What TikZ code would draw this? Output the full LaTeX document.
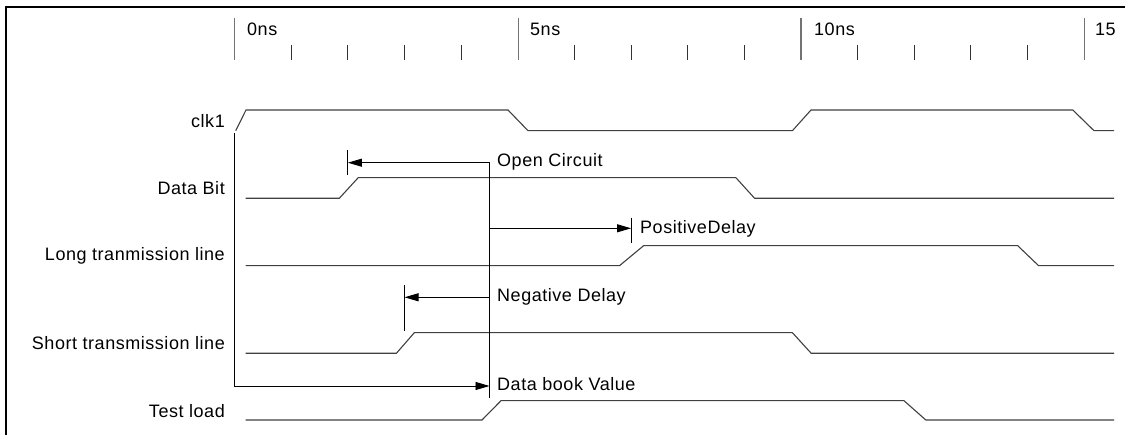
\documentclass[tikz,border=0pt]{standalone}
\usepackage{fontspec}
\setmainfont{Liberation Sans}[LetterSpace=3]
\usetikzlibrary{arrows.meta}

\tikzset{
    wave/.style={line width=1.1pt, black!75},
    majortick/.style={line width=1.1pt, black!55},
    minortick/.style={line width=1pt, black!80},
    sig/.style={anchor=east, inner sep=0pt, font=\fontsize{18}{21}\selectfont},
    note/.style={anchor=west, inner sep=0pt, font=\fontsize{18}{21}\selectfont},
    dimarrow/.style={line width=0.9pt, -{Triangle[length=14pt,width=8pt]}},
    marker/.style={line width=0.9pt}
}

\begin{document}
\begin{tikzpicture}[x=1pt, y=-1pt]
        \useasboundingbox (0, 0) rectangle (1125, 435);
        \clip (0, 0) rectangle (1125, 435);

        % frame
        \draw[line width=2pt] (5.5, 440) -- (5.5, 7) -- (1130, 7);

        % time scale
        \draw[majortick] (234.6, 18) -- (234.6, 60);
        \draw[majortick] (518.2, 18) -- (518.2, 60);
        \draw[majortick] (801.0, 18) -- (801.0, 60);
        \draw[majortick] (1084.2, 18) -- (1084.2, 60);
        \draw[minortick] (291.2, 45) -- (291.2, 60);
        \draw[minortick] (347.9, 45) -- (347.9, 60);
        \draw[minortick] (404.5, 45) -- (404.5, 60);
        \draw[minortick] (461.2, 45) -- (461.2, 60);
        \draw[minortick] (574.4, 45) -- (574.4, 60);
        \draw[minortick] (631.1, 45) -- (631.1, 60);
        \draw[minortick] (687.7, 45) -- (687.7, 60);
        \draw[minortick] (744.4, 45) -- (744.4, 60);
        \draw[minortick] (857.6, 45) -- (857.6, 60);
        \draw[minortick] (914.3, 45) -- (914.3, 60);
        \draw[minortick] (970.9, 45) -- (970.9, 60);
        \draw[minortick] (1027.6, 45) -- (1027.6, 60);

        \node[note] (t0) at (247, 29) {0ns};
        \node[note] (t5) at (530, 29) {5ns};
        \node[note] (t10) at (814, 29) {10ns};
        \node[note] (t15) at (1095, 29) {15};

        % signal names
        \node[sig] (clk) at (225, 121) {clk1};
        \node[sig] (databit) at (225, 188.5) {Data Bit};
        \node[sig] (longline) at (225, 256) {Long tranmission line};
        \node[sig] (shortline) at (225, 343.5) {Short transmission line};
        \node[sig] (testload) at (225, 411) {Test load};

        % waveforms
        \draw[wave] (235.7, 130.7) -- (246, 110) -- (508, 110) -- (528, 130.7)
            -- (792.4, 130.7) -- (811, 110) -- (1072.8, 110) -- (1094, 130.7) -- (1114, 130.7);
        \draw[wave] (245.7, 198.3) -- (339.3, 198.3) -- (358.2, 177.7) -- (735.9, 177.7)
            -- (754.6, 198.3) -- (1114, 198.3);
        \draw[wave] (245.7, 265.7) -- (619.5, 265.7) -- (643.6, 245.7) -- (1017.7, 245.7)
            -- (1038.6, 265.7) -- (1114, 265.7);
        \draw[wave] (245.7, 353.3) -- (396.4, 353.3) -- (414.3, 332.7) -- (792.4, 332.7)
            -- (811.2, 353.3) -- (1114, 353.3);
        \draw[wave] (245.7, 420) -- (482, 420) -- (501, 400.7) -- (904, 400.7)
            -- (925.8, 420) -- (1114, 420);

        % reference line and delays
        \coordinate (reftop) at (489.5, 162.7);
        \coordinate (refbot) at (489.5, 398.3);
        \coordinate (refpos) at (489.5, 228.3);
        \coordinate (refneg) at (489.5, 297.3);
        \coordinate (refdb) at (489.5, 386);
        \coordinate (origin) at (234.6, 133.3);
        \coordinate (originlow) at (234.6, 386);
        \coordinate (ocmark) at (347.9, 162.7);
        \coordinate (posmark) at (631.1, 228.3);
        \coordinate (negmark) at (404.5, 297.3);

        \draw[marker] (reftop) -- (refbot);
        \draw[marker] (347.9, 150) -- (347.9, 175);
        \draw[marker] (631.1, 217.7) -- (631.1, 243.3);
        \draw[marker] (404.5, 285) -- (404.5, 330.7);

        \draw[dimarrow] (reftop) -- (ocmark);
        \draw[dimarrow] (refpos) -- (posmark);
        \draw[dimarrow] (refneg) -- (negmark);
        \draw[dimarrow] (origin) -- (originlow) -- (refdb);

        \node[note] (opencircuit) at (497, 161.5) {Open Circuit};
        \node[note] (posdelay) at (640, 229) {PositiveDelay};
        \node[note] (negdelay) at (497, 296.5) {Negative Delay};
        \node[note] (databook) at (497, 384) {Data book Value};
\end{tikzpicture}
\end{document}
